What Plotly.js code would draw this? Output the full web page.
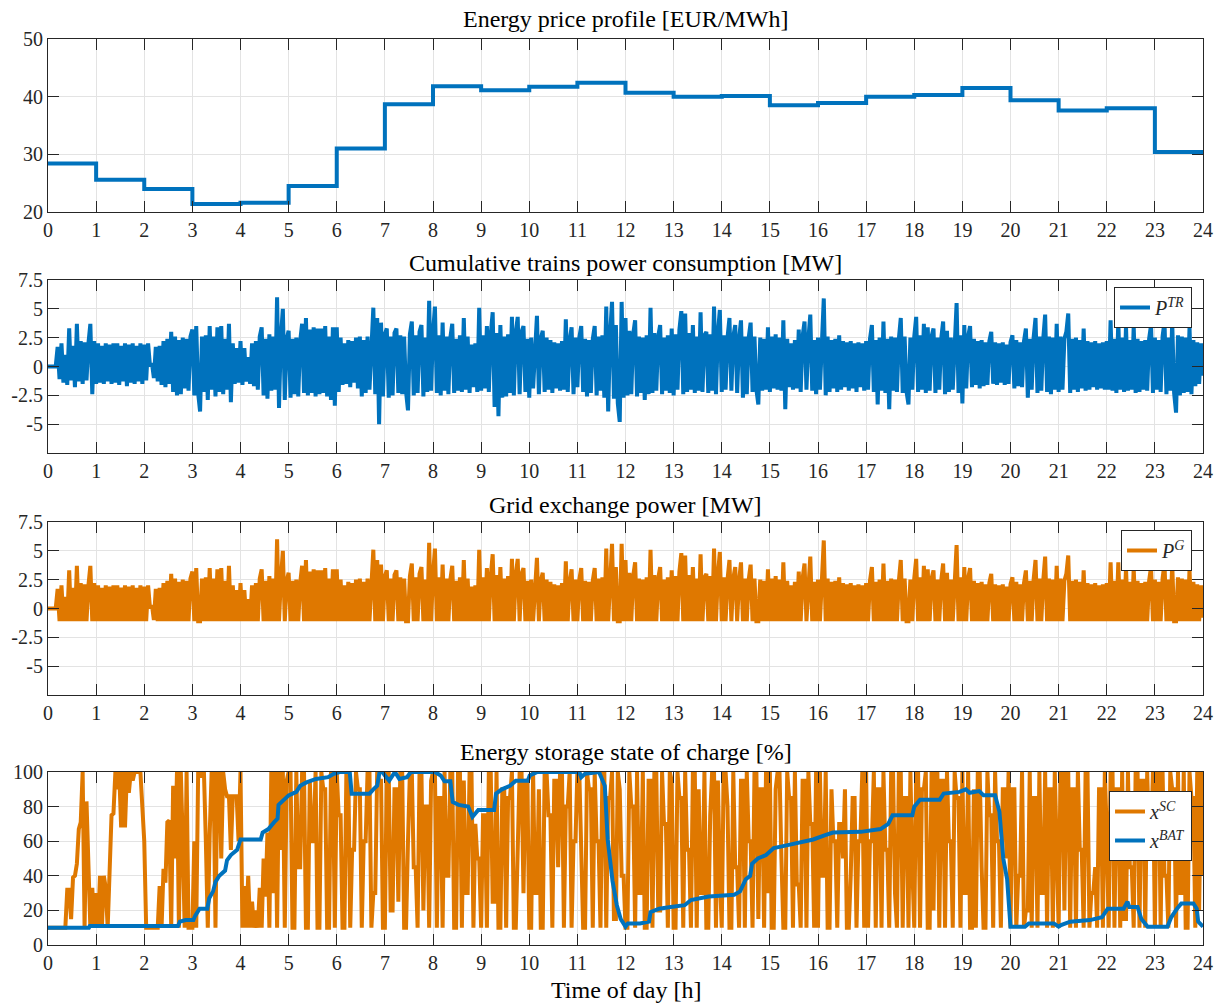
<!DOCTYPE html>
<html><head><meta charset="utf-8">
<script src="https://cdn.plot.ly/plotly-3.0.1.min.js"></script>
<style>html,body{margin:0;padding:0;background:#fff}</style>
</head><body><div id="chart" style="width:1219px;height:1003px"></div>
<script>
// ---------- DATA ----------
const priceHours = [0,1,2,3,4,5,6,7,8,9,10,11,12,13,14,15,16,17,18,19,20,21,22,23,24];
const priceEurMWh = [28.4,25.6,24.0,21.4,21.6,24.5,31.0,38.7,41.8,41.1,41.7,42.4,40.7,40.0,40.1,38.5,38.9,40.0,40.3,41.5,39.4,37.6,38.0,30.4,30.4];

// samples every 0.04 h (25 per hour), 0 .. 24 h
const sampleStartH = 0;
const sampleStepH = 0.04;
const trainPowerMW = [
0,0,0,0,0,1.7,-1.1,2.0,-1.4,1.0,-1.6,3.3,-1.2,1.8,-1.8,3.7,-1.3,2.2,-1.5,2.1,-1.2,2.0,3.7,-2.4,2.2,
-1.5,2.0,-1.4,1.8,-1.5,2.0,-1.3,1.9,-1.5,2.0,-1.4,2.0,-1.6,1.8,-1.3,2.0,-1.7,1.9,-1.4,2.0,-1.5,1.8,-1.3,2.0,-1.5,
1.9,-1.2,2.0,0,0.3,-1.0,1.7,-1.3,1.8,-1.6,2.2,-1.8,2.4,-1.5,3.0,-2.2,2.6,-2.5,2.3,-2.4,2.5,-1.9,2.4,-2.1,2.6,
3.2,-2.5,3.5,-2.3,-3.9,2.6,-2.2,2.7,-2.9,3.5,-2.0,2.6,-2.6,3.4,-2.2,3.5,-2.4,2.4,-2.0,3.7,-3.1,2.0,-1.5,1.6,-1.4,
2.2,-1.6,1.6,-1.3,0.8,-1.5,2.0,-1.7,2.2,-2.0,2.6,3.4,-2.5,2.4,-2.8,2.8,-2.1,2.6,-2.0,6.0,-3.6,2.6,5.0,-2.9,2.4,
3.1,-2.7,2.4,-2.4,2.5,-2.6,2.2,3.7,-2.3,4.2,-2.5,3.2,-2.3,3.4,-2.6,3.3,-2.4,3.3,-2.3,3.5,-2.6,2.6,-2.9,3.4,-3.4,
3.4,-2.2,2.5,-1.6,2.0,-1.5,2.3,-1.8,2.2,-1.4,2.5,-1.9,2.6,-2.6,2.3,-2.3,2.6,-2.0,2.7,5.1,-2.4,4.2,-5.0,3.8,-2.6,
2.8,3.3,-2.7,2.6,-2.5,2.9,3.3,-2.3,2.7,-2.4,2.6,-2.2,-3.8,2.8,3.9,-2.5,2.7,-2.3,3.0,3.6,-2.6,2.5,-2.2,5.7,-2.1,
2.9,5.2,-2.3,2.7,-2.5,3.8,-2.1,2.6,-2.4,2.5,3.7,-2.3,2.4,-2.1,2.7,-2.2,4.2,-2.0,2.6,-2.3,1.9,-1.8,2.0,-2.2,5.1,
-2.1,2.7,-1.9,3.5,-2.2,2.8,4.7,-3.5,2.9,-4.3,3.6,-2.7,2.6,-2.6,2.8,-2.3,4.3,-2.5,2.9,4.3,-2.4,3.0,3.5,-2.2,2.4,
-2.7,2.5,-1.9,2.3,4.4,-2.4,2.4,3.1,-2.2,2.5,-2.0,2.3,-2.3,2.1,-1.9,2.0,-2.1,2.2,-2.0,4.1,-2.2,2.3,3.4,-2.4,2.5,
-1.8,2.5,3.5,-2.2,2.4,-2.6,2.3,-2.3,2.4,3.5,-2.5,2.6,-2.1,2.7,-2.7,5.2,-3.9,2.8,5.6,-2.8,3.6,-3.2,-4.8,5.6,-2.7,
4.2,-2.5,3.1,-2.4,2.8,4.0,-2.6,2.6,-2.3,2.5,-2.9,2.7,-2.4,5.1,-2.3,2.9,-2.1,2.6,3.6,-2.4,2.5,-2.1,2.7,-2.3,3.3,
-2.5,2.8,-2.0,3.2,4.8,-2.4,4.6,-2.2,2.9,-2.0,3.6,-2.3,2.6,-2.1,4.7,-2.2,2.7,3.0,-2.3,2.8,-2.1,5.2,-2.4,2.9,4.9,
-2.2,2.7,-2.0,2.5,4.2,-2.1,2.6,3.6,-2.3,2.4,4.0,-2.7,2.6,-2.4,2.5,3.8,-2.2,2.6,-2.0,-3.3,2.5,-2.1,2.4,-2.0,3.4,
-2.2,2.6,-1.9,2.8,-2.0,2.5,-2.1,4.0,-3.7,2.4,-1.8,2.0,-2.0,2.3,-1.9,3.2,-2.2,2.6,3.9,-2.0,2.4,4.5,-2.1,2.3,-2.4,
2.5,-2.0,2.4,5.9,-2.5,2.6,-2.2,2.3,-1.9,2.4,-2.2,2.7,-2.0,2.2,-1.8,2.1,-2.1,2.2,-1.9,2.0,-2.2,2.1,-1.8,2.0,-2.1,
2.2,-2.0,2.4,3.6,-2.2,2.3,-3.3,2.5,-2.1,3.9,-2.3,2.4,-3.7,2.6,-2.1,2.5,-2.2,2.4,4.2,-2.3,2.6,-2.2,-3.3,2.5,-2.0,
2.6,4.3,-2.2,2.7,-2.0,3.7,-2.3,3.4,-2.1,2.6,3.3,-2.3,2.5,-2.0,2.4,3.9,-2.4,3.1,-2.2,2.5,-2.0,2.6,5.5,-2.3,2.7,
-3.2,3.6,-1.9,2.6,3.5,-1.8,2.4,-1.6,2.2,-1.9,2.3,-1.7,2.1,-1.6,2.2,3.0,-1.5,2.1,-1.6,2.0,-1.4,2.1,-1.6,1.9,-1.5,
2.1,2.7,-1.9,2.3,-1.7,2.1,-1.8,2.2,3.3,-2.7,2.4,-2.0,2.5,4.2,-2.3,2.6,-2.1,2.4,4.5,-2.2,2.6,-2.4,2.5,-2.0,3.7,
-2.2,2.6,-2.0,2.4,3.0,4.6,-2.3,2.4,-2.0,2.5,-2.2,2.3,-1.9,3.3,-2.1,2.2,-2.0,2.1,-1.8,2.2,-2.0,2.0,-1.9,2.1,-2.0,
2.2,-2.0,4.0,-2.1,2.4,-2.3,4.0,-2.0,2.5,-2.2,3.5,-2.1,2.3,-2.0,3.5,-2.3,2.4,-2.2,2.2,-2.0,2.3,-2.1,2.4,3.6,-2.3,
2.5,-2.0,2.3,-2.2,2.6,3.9,-2.4,2.5,-2.1,3.9,-2.3,-4.0,2.7,-2.5,2.6,-2.3,2.5,-2.2,3.4,-2.4,2.3,-1.7,2.1,-1.5,2.0,
-0.8];

const gridPowerMW = [
0,0,0,0,0,1.7,-1.1,2.0,-1.1,1.0,-1.1,3.3,-1.1,1.8,-1.1,3.7,-1.1,2.2,-1.1,2.1,-1.1,2.0,3.7,-1.1,2.2,
-1.1,2.0,-1.1,1.8,-1.1,2.0,-1.1,1.9,-1.1,2.0,-1.1,2.0,-1.1,1.8,-1.1,2.0,-1.1,1.9,-1.1,2.0,-1.1,1.8,-1.1,2.0,-1.1,
1.9,-1.1,2.0,0,0.3,-1.0,1.7,-1.1,1.8,-1.1,2.2,-1.1,2.4,-1.1,3.0,-1.1,2.6,-1.1,2.3,-1.1,2.5,-1.1,2.4,-1.1,2.6,
3.2,-1.1,3.5,-1.1,-1.1,2.6,-1.1,2.7,-1.1,3.5,-1.1,2.6,-1.1,3.4,-1.1,3.5,-1.1,2.4,-1.1,3.7,-1.1,2.0,-1.1,1.6,-1.1,
2.2,-1.1,1.6,-1.1,0.8,-1.1,2.0,-1.1,2.2,-1.1,2.6,3.4,-1.1,2.4,-1.1,2.8,-1.1,2.6,-1.1,6.0,-1.1,2.6,5.0,-1.1,2.4,
3.1,-1.1,2.4,-1.1,2.5,-1.1,2.2,3.7,-1.1,4.2,-1.1,3.2,-1.1,3.4,-1.1,3.3,-1.1,3.3,-1.1,3.5,-1.1,2.6,-1.1,3.4,-1.1,
3.4,-1.1,2.5,-1.1,2.0,-1.1,2.3,-1.1,2.2,-1.1,2.5,-1.1,2.6,-1.1,2.3,-1.1,2.6,-1.1,2.7,5.1,-1.1,4.2,-1.1,3.8,-1.1,
2.8,3.3,-1.1,2.6,-1.1,2.9,3.3,-1.1,2.7,-1.1,2.6,-1.1,-1.1,2.8,3.9,-1.1,2.7,-1.1,3.0,3.6,-1.1,2.5,-1.1,5.7,-1.1,
2.9,5.2,-1.1,2.7,-1.1,3.8,-1.1,2.6,-1.1,2.5,3.7,-1.1,2.4,-1.1,2.7,-1.1,4.2,-1.1,2.6,-1.1,1.9,-1.1,2.0,-1.1,5.1,
-1.1,2.7,-1.1,3.5,-1.1,2.8,4.7,-1.1,2.9,-1.1,3.6,-1.1,2.6,-1.1,2.8,-1.1,4.3,-1.1,2.9,4.3,-1.1,3.0,3.5,-1.1,2.4,
-1.1,2.5,-1.1,2.3,4.4,-1.1,2.4,3.1,-1.1,2.5,-1.1,2.3,-1.1,2.1,-1.1,2.0,-1.1,2.2,-1.1,4.1,-1.1,2.3,3.4,-1.1,2.5,
-1.1,2.5,3.5,-1.1,2.4,-1.1,2.3,-1.1,2.4,3.5,-1.1,2.6,-1.1,2.7,-1.1,5.2,-1.1,2.8,5.6,-1.1,3.6,-1.1,-1.1,5.6,-1.1,
4.2,-1.1,3.1,-1.1,2.8,4.0,-1.1,2.6,-1.1,2.5,-1.1,2.7,-1.1,5.1,-1.1,2.9,-1.1,2.6,3.6,-1.1,2.5,-1.1,2.7,-1.1,3.3,
-1.1,2.8,-1.1,3.2,4.8,-1.1,4.6,-1.1,2.9,-1.1,3.6,-1.1,2.6,-1.1,4.7,-1.1,2.7,3.0,-1.1,2.8,-1.1,5.2,-1.1,2.9,4.9,
-1.1,2.7,-1.1,2.5,4.2,-1.1,2.6,3.6,-1.1,2.4,4.0,-1.1,2.6,-1.1,2.5,3.8,-1.1,2.6,-1.1,-1.1,2.5,-1.1,2.4,-1.1,3.4,
-1.1,2.6,-1.1,2.8,-1.1,2.5,-1.1,4.0,-1.1,2.4,-1.1,2.0,-1.1,2.3,-1.1,3.2,-1.1,2.6,3.9,-1.1,2.4,4.5,-1.1,2.3,-1.1,
2.5,-1.1,2.4,5.9,-1.1,2.6,-1.1,2.3,-1.1,2.4,-1.1,2.7,-1.1,2.2,-1.1,2.1,-1.1,2.2,-1.1,2.0,-1.1,2.1,-1.1,2.0,-1.1,
2.2,-1.1,2.4,3.6,-1.1,2.3,-1.1,2.5,-1.1,3.9,-1.1,2.4,-1.1,2.6,-1.1,2.5,-1.1,2.4,4.2,-1.1,2.6,-1.1,-1.1,2.5,-1.1,
2.6,4.3,-1.1,2.7,-1.1,3.7,-1.1,3.4,-1.1,2.6,3.3,-1.1,2.5,-1.1,2.4,3.9,-1.1,3.1,-1.1,2.5,-1.1,2.6,5.5,-1.1,2.7,
-1.1,3.6,-1.1,2.6,3.5,-1.1,2.4,-1.1,2.2,-1.1,2.3,-1.1,2.1,-1.1,2.2,3.0,-1.1,2.1,-1.1,2.0,-1.1,2.1,-1.1,1.9,-1.1,
2.1,2.7,-1.1,2.3,-1.1,2.1,-1.1,2.2,3.3,-1.1,2.4,-1.1,2.5,4.2,-1.1,2.6,-1.1,2.4,4.5,-1.1,2.6,-1.1,2.5,-1.1,3.7,
-1.1,2.6,-1.1,2.4,3.0,4.6,-1.1,2.4,-1.1,2.5,-1.1,2.3,-1.1,3.3,-1.1,2.2,-1.1,2.1,-1.1,2.2,-1.1,2.0,-1.1,2.1,-1.1,
2.2,-1.1,4.0,-1.1,2.4,-1.1,4.0,-1.1,2.5,-1.1,3.5,-1.1,2.3,-1.1,3.5,-1.1,2.4,-1.1,2.2,-1.1,2.3,-1.1,2.4,3.6,-1.1,
2.5,-1.1,2.3,-1.1,2.6,3.9,-1.1,2.5,-1.1,3.9,-1.1,-1.1,2.7,-1.1,2.6,-1.1,2.5,-1.1,3.4,-1.1,2.3,-1.1,2.1,-1.1,2.0,
-0.8];

const socSupercap = [
10,10,10,10,10,10,10,10,10,10,32,32,15,39,40,47,67,71,100,10,83,50,10,33,10,
30,10,40,10,40,33,10,36,75,76,100,90,100,68,100,68,100,88,100,95,100,100,100,100,80,
60,10,10,10,10,10,10,10,34,10,44,36,71,72,10,92,50,100,10,100,60,10,100,10,10,
10,60,10,100,100,97,100,60,10,64,100,100,10,100,100,50,100,90,86,86,55,86,86,86,60,
100,10,34,10,40,10,25,10,20,10,33,10,50,28,65,10,100,30,100,10,100,55,100,10,95,
100,100,10,10,100,45,45,100,100,10,10,95,60,60,100,10,10,100,90,90,10,10,100,100,10,
100,75,75,10,10,100,100,10,55,55,100,90,90,10,60,60,100,100,10,30,30,100,95,95,10,
10,100,100,20,20,90,90,25,100,100,10,10,60,100,100,45,45,10,100,100,20,80,80,10,95,
100,100,10,85,85,10,100,40,40,100,100,10,10,100,100,10,95,30,30,100,100,10,70,50,50,
10,75,75,10,100,100,25,25,100,10,10,90,90,10,85,85,100,10,10,60,100,100,30,95,95,
10,10,100,30,30,90,10,10,100,100,75,75,10,95,95,45,100,100,10,80,80,100,10,60,60,
100,100,45,10,10,100,90,90,10,100,60,60,10,100,100,10,85,85,100,15,15,100,90,40,40,
10,10,100,80,80,10,100,30,30,100,10,10,95,95,10,100,100,20,20,100,70,70,10,100,95,
10,10,100,85,85,10,100,55,55,10,100,100,10,90,30,30,100,10,10,75,100,100,10,95,40,
10,100,100,80,10,10,100,45,45,10,95,95,10,100,60,60,10,100,100,15,90,90,10,100,30,
100,10,10,90,100,100,50,10,10,100,85,85,10,100,35,35,10,95,95,10,100,70,70,10,100,
10,100,40,40,100,10,10,90,60,60,10,70,70,50,90,10,10,40,85,85,10,60,60,100,10,
100,10,60,60,100,10,90,90,10,100,55,55,10,100,100,30,10,100,100,10,85,85,10,100,45,
10,100,100,10,90,90,100,10,10,100,20,100,100,10,95,95,10,100,60,60,10,100,85,85,10,
100,30,30,100,10,10,90,10,100,100,45,10,10,100,75,75,10,100,60,60,10,90,90,50,100,
10,90,90,10,40,40,100,10,20,20,100,10,85,85,10,100,30,30,100,10,90,90,10,100,45,
10,100,100,20,100,100,10,90,90,10,100,55,55,10,100,100,10,30,30,45,10,90,90,10,100,
65,10,100,100,10,90,90,10,100,15,15,100,45,45,10,100,100,10,95,95,10,100,60,60,100,
10,100,100,10,100,40,40,10,100,90,90,10,100,30,30,100,10,10,100,85,85,10,100,20,100,
40];

const batTimeH = [0,0.85,0.87,2.7,2.74,2.86,3.02,3.06,3.15,3.31,3.35,3.43,3.48,3.56,3.68,3.72,3.8,3.93,4.0,4.42,4.46,4.58,4.7,4.77,4.79,4.87,5.0,5.16,5.24,5.37,5.57,5.82,5.94,6.06,6.27,6.31,6.68,6.76,6.84,6.89,6.95,7.0,7.09,7.21,7.3,7.46,7.54,8.04,8.16,8.24,8.36,8.41,8.53,8.73,8.82,8.94,9.27,9.31,9.43,9.6,9.72,9.97,10.01,10.17,11.04,11.08,11.16,11.45,11.57,11.63,11.73,11.82,11.9,12.0,12.05,12.3,12.49,12.52,12.7,12.94,13.23,13.36,13.56,13.73,14.26,14.38,14.5,14.59,14.63,14.75,14.92,15.08,15.25,15.57,15.9,16.15,16.31,16.89,17.05,17.3,17.46,17.55,17.96,18.0,18.12,18.53,18.61,18.94,19.07,19.15,19.35,19.44,19.68,19.77,19.85,19.93,20.0,20.3,20.38,20.9,21.0,21.05,21.24,21.65,21.9,22.02,22.35,22.43,22.47,22.64,22.72,22.85,23.26,23.34,23.46,23.55,23.8,23.87,23.9,24.0];
const socBattery = [10,10,11,11,13.5,14.4,14.4,17,21,21,27,31,36.5,40,43,49,52,55,61,61,65,67,71,73,81,83,86.5,88.5,92,94,96,97,99,100,100,87.5,87.5,90,92,100,100,98,95,100,96,97,100,100,98,94.6,94.6,82.7,81,80,74,78,78,87.5,90,92,95,95,98,100,100,97,99,100,92,61,37,23,15,10.6,12.5,12.5,13.5,19,21,22,23,26,27,28,29,31,38,40,47,50,52,56,57,59,61,63.5,65,65.4,66,67,70,75,75,80,84,84,87.5,88.5,90,88,89,86.5,86.5,77,50,38,10.6,10.6,12.5,12.5,10.6,11.5,13.5,14.4,16,21,21,25,22,22,15,10.6,10.6,16,21,24,24,21,13.5,10.6];

const hourTicks = [0,1,2,3,4,5,6,7,8,9,10,11,12,13,14,15,16,17,18,19,20,21,22,23,24];
const titles = ['Energy price profile [EUR/MWh]','Cumulative trains power consumption [MW]','Grid exchange power [MW]','Energy storage state of charge [%]'];

// ---------- STYLE ----------
const FONT = '"Liberation Serif", "Times New Roman", serif';
const BLUE = '#0072BD';
const ORANGE = '#DF7800';
const AX = '#262626';
const H = 1003;
const dom = [[39,212],[280,453],[522,695],[772,945]].map(([t,b]) => [(H-b)/H, (H-t)/H]);

function xax(anchor){
  return {anchor, domain:[0,1], range:[0,24], tickvals:hourTicks, ticktext:hourTicks.map(String),
    showline:true, linecolor:AX, linewidth:1, mirror:'ticks', ticks:'inside', ticklen:11, tickcolor:AX,
    showgrid:true, gridcolor:'#e3e3e3', gridwidth:1, zeroline:false,
    tickfont:{family:FONT, size:20, color:AX}};
}
function yax(anchor, d, range, vals, txt){
  return {anchor, domain:d, range, tickvals:vals, ticktext:txt,
    showline:true, linecolor:AX, linewidth:1, mirror:'ticks', ticks:'inside', ticklen:11, tickcolor:AX,
    showgrid:true, gridcolor:'#e3e3e3', gridwidth:1, zeroline:false,
    tickfont:{family:FONT, size:20, color:AX}};
}
const pVals = [-5,-2.5,0,2.5,5,7.5];
const pTxt = ['-5','-2.5','0','2.5','5','7.5'];

const traces = [
  {type:'scatter', mode:'lines', x:priceHours, y:priceEurMWh, xaxis:'x', yaxis:'y',
   line:{color:BLUE, width:4, shape:'hv'}, showlegend:false, name:'price'},
  {type:'scatter', mode:'lines', x0:sampleStartH, dx:sampleStepH, y:trainPowerMW, xaxis:'x2', yaxis:'y2',
   line:{color:BLUE, width:4}, name:'<i>P</i><sup><i>TR</i></sup>', legend:'legend'},
  {type:'scatter', mode:'lines', x0:sampleStartH, dx:sampleStepH, y:gridPowerMW, xaxis:'x3', yaxis:'y3',
   line:{color:ORANGE, width:4}, name:'<i>P</i><sup><i>G</i></sup>', legend:'legend2'},
  {type:'scatter', mode:'lines', x0:sampleStartH, dx:sampleStepH, y:socSupercap, xaxis:'x4', yaxis:'y4',
   line:{color:ORANGE, width:4}, name:'<i>x</i><sup><i>SC</i></sup>', legend:'legend3'},
  {type:'scatter', mode:'lines', x:batTimeH, y:socBattery, xaxis:'x4', yaxis:'y4',
   line:{color:BLUE, width:4}, name:'<i>x</i><sup><i>BAT</i></sup>', legend:'legend3'}
];

const legendBase = {xanchor:'right', yanchor:'top', x:0.9905, bgcolor:'#ffffff', bordercolor:AX, borderwidth:1,
  font:{family:FONT, size:20, color:AX}, itemwidth:30, tracegroupgap:0};

const titleY = [19, 263, 505, 752];
const annotations = titles.map((t,i) => ({text:t, xref:'paper', yref:'paper', x:0.5, y:(H-titleY[i])/H,
  xanchor:'center', yanchor:'middle', showarrow:false, font:{family:FONT, size:24, color:'#000'}}));
annotations.push({text:'Time of day [h]', xref:'paper', yref:'paper', x:0.5, y:(H-990)/H,
  xanchor:'center', yanchor:'middle', showarrow:false, font:{family:FONT, size:24, color:'#000'}});

const layout = {
  width:1219, height:1003, margin:{l:48, r:16, t:0, b:0},
  paper_bgcolor:'#ffffff', plot_bgcolor:'#ffffff', showlegend:true,
  xaxis:xax('y'), xaxis2:xax('y2'), xaxis3:xax('y3'), xaxis4:xax('y4'),
  yaxis:yax('x', dom[0], [20,50], [20,30,40,50], ['20','30','40','50']),
  yaxis2:yax('x2', dom[1], [-7.5,7.5], pVals, pTxt),
  yaxis3:yax('x3', dom[2], [-7.5,7.5], pVals, pTxt),
  yaxis4:yax('x4', dom[3], [0,100], [0,20,40,60,80,100], ['0','20','40','60','80','100']),
  legend:Object.assign({}, legendBase, {y:(H-287)/H}),
  legend2:Object.assign({}, legendBase, {y:(H-530)/H}),
  legend3:Object.assign({}, legendBase, {y:(H-791)/H}),
  annotations
};

Plotly.newPlot('chart', traces, layout, {staticPlot:true, displayModeBar:false});
</script>
</body></html>
